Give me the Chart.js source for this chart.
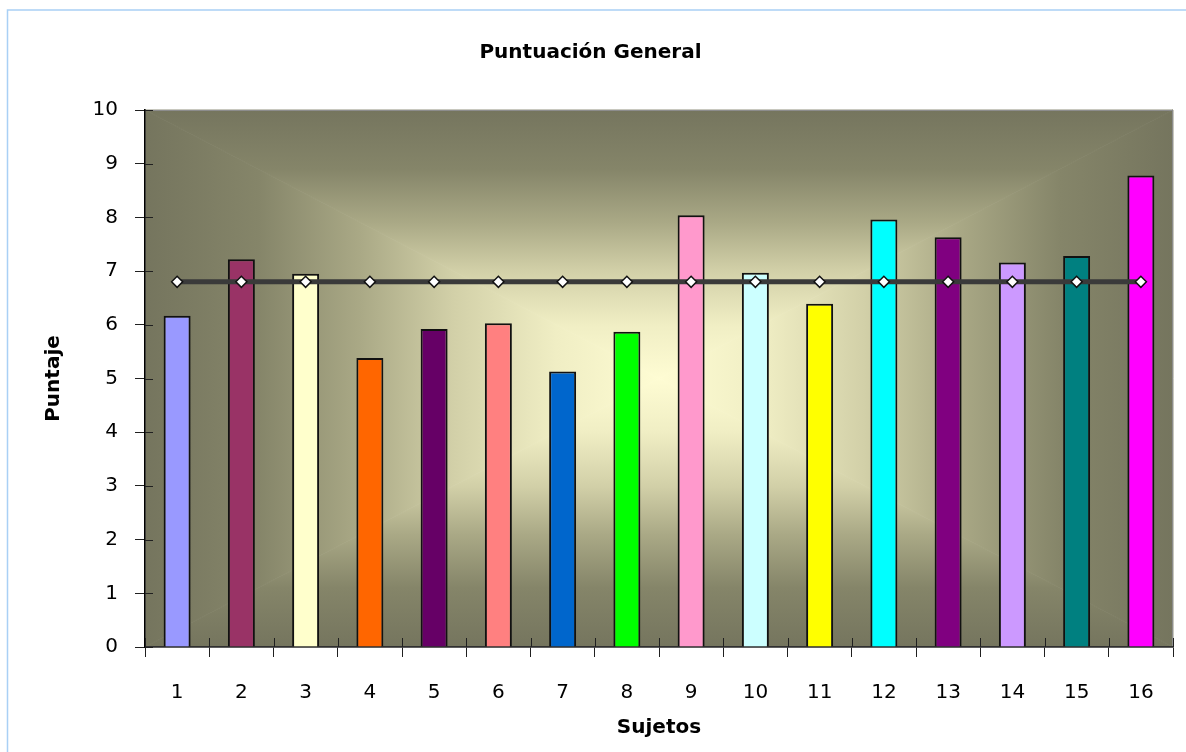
<!DOCTYPE html>
<html>
<head>
<meta charset="utf-8">
<title>Puntuación General</title>
<script src="https://cdn.jsdelivr.net/npm/chart.js@4.4.1/dist/chart.umd.min.js"></script>
<style>
  html,body{margin:0;padding:0;background:#fff;overflow:hidden;}
  #wrap{width:1186px;height:752px;}
</style>
</head>
<body>
<div id="wrap"><canvas id="score-chart" width="1186" height="752"></canvas></div>
<script>
const sujetos=['1','2','3','4','5','6','7','8','9','10','11','12','13','14','15','16'];
const puntajes=[6.17,7.22,6.95,5.38,5.92,6.03,5.13,5.87,8.04,6.97,6.39,7.96,7.63,7.16,7.28,8.78];
const promedio=[6.8,6.8,6.8,6.8,6.8,6.8,6.8,6.8,6.8,6.8,6.8,6.8,6.8,6.8,6.8,6.8];
const barColors=['#9999ff','#993366','#ffffcc','#ff6600','#660066','#ff8080','#0066cc','#00ff00',
                 '#ff99cc','#ccffff','#ffff00','#00ffff','#800080','#cc99ff','#008080','#ff00ff'];

const fontFamily='"Comic Sans MS", "DejaVu Sans", sans-serif';

// white page with the light blue frame
const framePlugin={
    id:'frame',
    beforeDraw:(chart)=>{
        const ctx=chart.ctx;
        ctx.save();
        ctx.fillStyle='#ffffff';
        ctx.fillRect(0,0,chart.width,chart.height);
        ctx.strokeStyle='#a9d0f5';
        ctx.lineWidth=1.5;
        ctx.beginPath();
        ctx.moveTo(7.5,chart.height+5);
        ctx.lineTo(7.5,10);
        ctx.lineTo(chart.width+5,10);
        ctx.stroke();
        ctx.restore();
    }
};

// rectangular "from center" gradient of the plot area
const plotBgPlugin={
    id:'plotBg',
    beforeDraw:(chart)=>{
        const {ctx,chartArea:a}=chart;
        const cx=(a.left+a.right)/2, cy=(a.top+a.bottom)/2;
        const stops=[[0,'#75755e'],[0.22,'#858569'],[0.42,'#aaa986'],[0.6,'#d2d0a8'],[0.8,'#f0eec4'],[1,'#fefcd3']];
        const parts=[
            {poly:[[a.left,a.top],[a.right,a.top]],from:[cx,a.top]},
            {poly:[[a.left,a.bottom],[a.right,a.bottom]],from:[cx,a.bottom]},
            {poly:[[a.left,a.top],[a.left,a.bottom]],from:[a.left,cy]},
            {poly:[[a.right,a.top],[a.right,a.bottom]],from:[a.right,cy]}
        ];
        ctx.save();
        parts.forEach((p)=>{
            const g=ctx.createLinearGradient(p.from[0],p.from[1],cx,cy);
            stops.forEach((s)=>g.addColorStop(s[0],s[1]));
            ctx.fillStyle=g;
            ctx.strokeStyle=g;
            ctx.lineWidth=0.8;
            ctx.beginPath();
            ctx.moveTo(p.poly[0][0],p.poly[0][1]);
            ctx.lineTo(p.poly[1][0],p.poly[1][1]);
            ctx.lineTo(cx,cy);
            ctx.closePath();
            ctx.fill();
            ctx.stroke();
        });
        ctx.strokeStyle='#8c8c8c';
        ctx.lineWidth=1;
        ctx.strokeRect(a.left,a.top+0.5,a.right-a.left-0.5,a.bottom-a.top);
        ctx.restore();
    }
};

// small tick marks that cross into the plot area
const innerTicksPlugin={
    id:'innerTicks',
    afterDraw:(chart)=>{
        const {ctx,chartArea:a,scales}=chart;
        ctx.save();
        ctx.strokeStyle='#202020';
        ctx.lineWidth=1;
        ctx.beginPath();
        scales.y.ticks.forEach((t,i)=>{
            const y=Math.round(scales.y.getPixelForTick(i))+0.5;
            ctx.moveTo(a.left,y);
            ctx.lineTo(a.left+8,y);
        });
        for(let i=0;i<=sujetos.length;i++){
            const x=Math.round(scales.x.getPixelForValue(i-0.5))+0.5;
            ctx.moveTo(x,a.bottom);
            ctx.lineTo(x,a.bottom-9);
        }
        ctx.stroke();
        ctx.restore();
    }
};

const ctx=document.getElementById('score-chart').getContext('2d');
const scoreChart=new Chart(ctx,{
    type:'bar',
    data:{
        labels:sujetos,
        datasets:[
            {
                type:'line',
                label:'Promedio',
                data:promedio,
                borderColor:'#3a3a3a',
                borderWidth:5,
                pointStyle:'rectRot',
                pointRadius:5.5,
                pointBackgroundColor:'#ffffff',
                pointBorderColor:'#111111',
                pointBorderWidth:1.5,
                fill:false,
                order:0
            },
            {
                label:'Puntaje',
                data:puntajes,
                backgroundColor:barColors,
                borderColor:'#111111',
                borderWidth:2,
                barPercentage:0.42,
                categoryPercentage:1,
                order:1
            }
        ]
    },
    options:{
        responsive:false,
        animation:false,
        layout:{padding:{left:8,top:10,right:13,bottom:0}},
        plugins:{
            legend:{display:false},
            tooltip:{enabled:false},
            title:{
                display:true,
                text:'Puntuación General',
                color:'#000',
                font:{family:fontFamily,size:20,weight:'bold'},
                padding:{top:31,bottom:45}
            }
        },
        scales:{
            x:{
                offset:true,
                grid:{offset:true,drawOnChartArea:false,tickLength:10,color:'#202020'},
                border:{color:'#303030',width:1.5},
                ticks:{color:'#000',padding:24,font:{family:fontFamily,size:20}},
                title:{display:true,text:'Sujetos',color:'#000',
                       font:{family:fontFamily,size:20,weight:'bold'},padding:{top:0,bottom:12}},
                afterFit:(scale)=>{scale.height=105;}
            },
            y:{
                min:0,
                max:10,
                ticks:{stepSize:1,color:'#000',padding:17,font:{family:fontFamily,size:20}},
                grid:{drawOnChartArea:false,tickLength:10,color:'#202020'},
                border:{color:'#000',width:1.5},
                title:{display:true,text:'Puntaje',color:'#000',
                       font:{family:fontFamily,size:20,weight:'bold'},padding:{top:34,bottom:0}},
                afterFit:(scale)=>{scale.width=137;}
            }
        }
    },
    plugins:[framePlugin,plotBgPlugin,innerTicksPlugin]
});
</script>
</body>
</html>
